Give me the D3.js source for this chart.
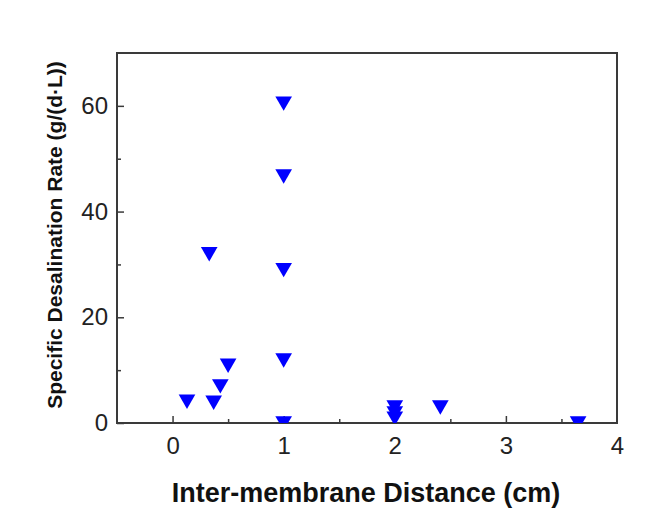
<!DOCTYPE html>
<html>
<head>
<meta charset="utf-8">
<script src="https://cdn.jsdelivr.net/npm/d3@7"></script>
<style>
	html, body { margin: 0; padding: 0; background: #ffffff; }
	svg { display: block; font-family: "Liberation Sans", Arial, sans-serif; }
</style>
</head>
<body>
<svg id="chart" width="660" height="510"></svg>
<script>
(function () {
	'use strict';

	// --- Data ---
	var distances = [1, 1, 1, 1, 1, 0.33, 0.13, 0.37, 0.43, 0.5, 2, 2, 2, 2.41, 3.65];
	var rates     = [60.5, 46.7, 29.0, 11.9, 0, 32.0, 4.1, 3.9, 7.0, 10.9, 3.0, 1.9, 0.9, 3.0, 0];

	var xTicks = [0, 1, 2, 3, 4];
	var yTicks = [0, 20, 40, 60];
	var xMinor = [0.5, 1.5, 2.5, 3.5];
	var yMinor = [10, 30, 50];

	// --- Layout ---
	var WIDTH  = 660;
	var HEIGHT = 510;
	var M = { left: 117, right: 43, top: 53, bottom: 87 };
	var plotW = WIDTH - M.left - M.right;
	var plotH = HEIGHT - M.top - M.bottom;

	var FRAME = '#3a3a3a';
	var MARK  = '#0000ff';

	var svg = d3.select('#chart');
	svg.append('rect').attr('width', WIDTH).attr('height', HEIGHT).attr('fill', '#ffffff');

	var x = d3.scaleLinear().domain([-0.5, 4]).range([0, plotW]);
	var y = d3.scaleLinear().domain([0, 70]).range([plotH, 0]);

	var g = svg.append('g').attr('transform', 'translate(' + M.left + ',' + M.top + ')');

	svg.append('defs').append('clipPath').attr('id', 'plotClip')
		.append('rect').attr('width', plotW).attr('height', plotH);

	// X axis (ticks point inward)
	var xAxis = g.append('g').attr('transform', 'translate(0,' + plotH + ')')
		.call(d3.axisBottom(x).tickValues(xTicks).tickSize(-7).tickPadding(14).tickFormat(d3.format('d')));
	xAxis.selectAll('.tick').filter(function (d) { return d === 4; }).select('line').remove();
	g.append('g').attr('transform', 'translate(0,' + plotH + ')')
		.call(d3.axisBottom(x).tickValues(xMinor).tickSize(-4).tickFormat(''))
		.select('.domain').remove();

	// Y axis
	var yAxis = g.append('g')
		.call(d3.axisLeft(y).tickValues(yTicks).tickSize(-7).tickPadding(9).tickFormat(d3.format('d')));
	g.append('g')
		.call(d3.axisLeft(y).tickValues(yMinor).tickSize(-4).tickFormat(''))
		.select('.domain').remove();

	[xAxis, yAxis].forEach(function (a) {
		a.select('.domain').remove();
		a.selectAll('text').attr('fill', '#222').style('font-size', '24px');
	});
	g.selectAll('.tick line').attr('stroke', FRAME).attr('stroke-width', 1.5);

	// Frame
	g.append('rect')
		.attr('width', plotW).attr('height', plotH)
		.attr('fill', 'none').attr('stroke', FRAME).attr('stroke-width', 2);

	// Markers: downward triangles, clipped to the plot area
	var tri = d3.symbol().type(d3.symbolTriangle).size(120);
	g.append('g').attr('clip-path', 'url(#plotClip)')
		.selectAll('path')
		.data(distances.map(function (d, i) { return [d, rates[i]]; }))
		.enter()
		.append('path')
		.attr('d', tri)
		.attr('transform', function (d) {
			return 'translate(' + x(d[0]) + ',' + (y(d[1]) - 2) + ') rotate(180)';
		})
		.attr('fill', MARK);

	// Axis titles
	svg.append('text')
		.attr('x', 366)
		.attr('y', 502)
		.attr('text-anchor', 'middle')
		.style('font-size', '27px')
		.style('font-weight', 'bold')
		.attr('fill', '#111')
		.text('Inter-membrane Distance (cm)');

	svg.append('text')
		.attr('transform', 'translate(62,235) rotate(-90)')
		.attr('text-anchor', 'middle')
		.style('font-size', '21px')
		.style('font-weight', 'bold')
		.attr('fill', '#111')
		.text('Specific Desalination Rate (g/(d\u00b7L))');
})();
</script>
</body>
</html>
